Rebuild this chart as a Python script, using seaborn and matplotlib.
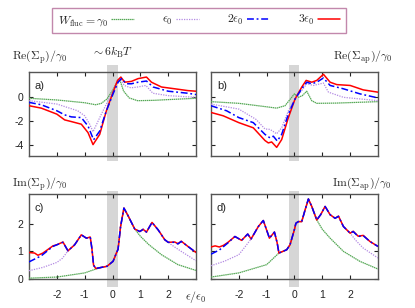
"""
Self-energy panels: Re / Im of Sigma_p and Sigma_ap for several W_fluc
"""

import matplotlib
matplotlib.use("Agg")
import matplotlib.pyplot as plt  # type: ignore
import seaborn as sns  # type: ignore
from matplotlib.lines import Line2D  # type: ignore


# --- a) Re(Sigma_p) ---
re_p_green_x = [-3.0, -2.0, -1.0, -0.6, -0.4, -0.2, 0.0, 0.15, 0.26, 0.4, 0.6, 0.9, 1.5, 2.0, 3.0]
re_p_green_y = [-0.14, -0.28, -0.51, -0.68, -0.56, -0.2, 0.51, 1.13, 1.41, 0.45, -0.11, -0.34, -0.31, -0.25, -0.14]
re_p_purple_x = [-3.0, -2.0, -1.25, -1.0, -0.82, -0.7, -0.55, -0.4, -0.1, 0.14, 0.28, 0.42, 0.66, 0.9, 1.2, 1.45, 2.0, 3.0]
re_p_purple_y = [-0.34, -0.62, -1.18, -1.6, -2.3, -2.93, -2.2, -1.46, -0.06, 1.07, 1.5, 0.93, 0.73, 0.8, 0.93, 0.28, 0.08, -0.06]
re_p_blue_x = [-3.0, -2.56, -2.0, -1.72, -1.48, -1.12, -0.88, -0.68, -0.46, -0.22, 0.02, 0.2, 0.32, 0.5, 0.68, 0.92, 1.22, 1.46, 2.0, 2.71, 3.0]
re_p_blue_y = [-0.48, -0.68, -1.18, -1.52, -1.69, -1.75, -2.45, -3.6, -2.87, -1.18, 0.23, 1.2, 1.5, 1.07, 1.07, 1.2, 1.3, 0.8, 0.45, 0.28, 0.17]
re_p_red_x = [-3.0, -2.56, -2.0, -1.72, -1.48, -1.12, -0.88, -0.7, -0.46, -0.22, 0.02, 0.18, 0.3, 0.44, 0.68, 0.92, 1.22, 1.4, 1.76, 2.24, 2.71, 3.0]
re_p_red_y = [-0.76, -0.96, -1.46, -1.94, -2.08, -2.3, -3.0, -4.0, -3.15, -1.18, 0.37, 1.35, 1.63, 1.2, 1.27, 1.5, 1.63, 1.2, 0.8, 0.65, 0.5, 0.45]

# --- b) Re(Sigma_ap) ---
re_ap_green_x = [-3.0, -2.0, -1.0, -0.64, -0.34, -0.1, 0.0, 0.14, 0.28, 0.44, 0.62, 0.8, 1.5, 3.0]
re_ap_green_y = [-0.42, -0.56, -0.85, -0.96, -0.76, -0.06, 0.23, -0.06, 0.08, 0.45, -0.34, -0.56, -0.54, -0.42]
re_ap_purple_x = [-3.0, -2.0, -1.38, -1.06, -0.88, -0.64, -0.46, -0.22, 0.02, 0.26, 0.44, 0.68, 1.04, 1.22, 1.76, 3.0]
re_ap_purple_y = [-0.62, -1.04, -1.9, -2.7, -2.73, -3.1, -2.6, -1.18, -0.2, 0.5, 1.07, 0.93, 1.13, 0.37, -0.06, -0.34]
re_ap_blue_x = [-3.0, -2.44, -2.0, -1.48, -1.06, -0.88, -0.76, -0.62, -0.46, -0.22, 0.02, 0.26, 0.44, 0.62, 0.8, 1.04, 1.28, 1.76, 2.35, 3.0]
re_ap_blue_y = [-0.76, -1.18, -1.75, -2.17, -3.15, -3.44, -3.3, -3.7, -3.15, -1.46, -0.2, 0.65, 1.2, 1.07, 1.2, 1.55, 0.93, 0.65, 0.23, -0.11]
re_ap_red_x = [-3.0, -2.56, -2.0, -1.48, -1.06, -0.94, -0.82, -0.64, -0.46, -0.22, 0.02, 0.26, 0.42, 0.62, 0.8, 1.04, 1.28, 1.52, 2.0, 2.47, 3.0]
re_ap_red_y = [-1.32, -1.6, -2.17, -2.6, -3.66, -3.86, -3.78, -4.23, -3.58, -1.75, -0.2, 0.79, 1.35, 1.2, 1.35, 1.86, 1.2, 1.0, 0.93, 0.56, 0.37]

# --- c) Im(Sigma_p) ---
im_p_green_x = [-3.0, -2.0, -1.0, -0.6, -0.4, -0.2, 0.02, 0.14, 0.2, 0.29, 0.41, 0.56, 0.8, 1.0, 1.3, 1.76, 2.35, 3.0]
im_p_green_y = [0.03, 0.07, 0.22, 0.36, 0.42, 0.46, 0.64, 0.94, 1.08, 1.9, 2.57, 2.29, 1.81, 1.55, 1.25, 0.88, 0.52, 0.31]
im_p_purple_x = [-3.0, -2.5, -2.0, -1.8, -1.6, -1.36, -1.12, -0.94, -0.8, -0.74, -0.68, -0.6, -0.4, -0.2, 0.02, 0.14,
                 0.2, 0.29, 0.41, 0.56, 0.8, 0.98, 1.1, 1.22, 1.42, 1.64, 1.88, 2.2, 2.47, 3.0]
im_p_purple_y = [0.3, 0.42, 0.6, 0.75, 1.02, 1.24, 1.6, 1.48, 1.52, 1.1, 0.5, 0.38, 0.42, 0.46, 0.64, 0.94,
                 1.08, 1.9, 2.57, 2.29, 1.81, 1.72, 1.8, 1.7, 2.05, 1.78, 1.42, 1.18, 1.0, 0.66]
im_p_blue_x = [-3.0, -2.56, -2.14, -2.0, -1.78, -1.6, -1.36, -1.12, -0.94, -0.8, -0.74, -0.68, -0.6, -0.4, -0.2, 0.02,
               0.14, 0.2, 0.29, 0.41, 0.56, 0.8, 0.98, 1.1, 1.22, 1.42, 1.64, 1.88, 2.0, 2.24, 2.35, 2.47, 2.71, 3.0]
im_p_blue_y = [0.62, 0.84, 1.18, 1.24, 1.33, 1.02, 1.24, 1.6, 1.48, 1.52, 1.1, 0.5, 0.38, 0.42, 0.46, 0.64,
               0.94, 1.08, 1.9, 2.57, 2.29, 1.81, 1.72, 1.8, 1.7, 2.05, 1.78, 1.42, 1.33, 1.33, 1.27, 1.36, 1.18, 0.96]
im_p_red_x = [-3.0, -2.8, -2.68, -2.5, -2.14, -2.0, -1.78, -1.6, -1.36, -1.12, -0.94, -0.8, -0.74, -0.68, -0.6, -0.4,
              -0.2, 0.02, 0.14, 0.2, 0.29, 0.41, 0.56, 0.8, 0.98, 1.1, 1.22, 1.42, 1.64, 1.88, 2.0, 2.24, 2.35, 2.47,
              2.71, 3.0]
im_p_red_y = [0.96, 0.94, 0.86, 0.94, 1.2, 1.24, 1.34, 1.02, 1.24, 1.6, 1.48, 1.52, 1.1, 0.5, 0.38, 0.42,
              0.46, 0.64, 0.94, 1.08, 1.9, 2.57, 2.29, 1.81, 1.72, 1.8, 1.7, 2.05, 1.78, 1.42, 1.33, 1.34, 1.28, 1.37,
              1.18, 0.96]

# --- d) Im(Sigma_ap) ---
im_ap_green_x = [-3.0, -2.0, -1.0, -0.56, -0.28, -0.16, 0.0, 0.05, 0.14, 0.26, 0.38, 0.5, 0.62, 0.8, 1.0, 1.28, 1.76,
                 2.35, 3.0]
im_ap_green_y = [0.07, 0.22, 0.52, 0.94, 1.06, 1.24, 1.8, 2.02, 2.08, 2.08, 2.5, 2.9, 2.63, 2.14, 1.8, 1.48, 1.0,
                 0.64, 0.36]
im_ap_purple_x = [-3.0, -2.5, -2.0, -1.75, -1.56, -1.3, -1.12, -0.9, -0.72, -0.62, -0.56, -0.28, -0.16, 0.0, 0.05,
                  0.14, 0.26, 0.38, 0.5, 0.62, 0.8, 0.94, 1.1, 1.28, 1.46, 1.58, 1.76, 2.0, 2.2, 2.47, 3.0]
im_ap_purple_y = [0.48, 0.65, 0.88, 1.2, 1.45, 1.9, 2.12, 1.48, 1.7, 1.3, 0.94, 1.06, 1.24, 1.8, 2.02,
                  2.08, 2.08, 2.5, 2.9, 2.63, 2.14, 2.33, 2.63, 2.33, 2.2, 2.27, 1.9, 1.66, 1.4, 1.12, 0.76]
im_ap_blue_x = [-3.0, -2.7, -2.4, -2.14, -1.9, -1.68, -1.56, -1.3, -1.12, -0.9, -0.72, -0.62, -0.56, -0.28, -0.16,
                0.0, 0.05, 0.14, 0.26, 0.38, 0.5, 0.62, 0.8, 0.94, 1.1, 1.28, 1.46, 1.58, 1.76, 2.0, 2.11, 2.29, 2.47,
                2.71, 3.0]
im_ap_blue_y = [0.9, 1.05, 1.3, 1.54, 1.4, 1.63, 1.45, 1.9, 2.12, 1.48, 1.7, 1.3, 0.94, 1.06, 1.24,
                1.8, 2.02, 2.08, 2.08, 2.5, 2.9, 2.63, 2.14, 2.33, 2.63, 2.33, 2.2, 2.27, 1.9, 1.66, 1.72, 1.54, 1.57,
                1.36, 1.18]
im_ap_red_x = [-3.0, -2.85, -2.7, -2.55, -2.4, -2.14, -1.9, -1.68, -1.56, -1.3, -1.12, -0.9, -0.72, -0.62, -0.56,
               -0.28, -0.16, 0.0, 0.05, 0.14, 0.26, 0.38, 0.5, 0.62, 0.8, 0.94, 1.1, 1.28, 1.46, 1.58, 1.76, 2.0, 2.11,
               2.29, 2.47, 2.71, 3.0]
im_ap_red_y = [1.16, 1.2, 1.16, 1.22, 1.32, 1.54, 1.4, 1.63, 1.45, 1.9, 2.12, 1.48, 1.7, 1.3, 0.94,
               1.06, 1.24, 1.8, 2.02, 2.08, 2.08, 2.5, 2.9, 2.63, 2.14, 2.33, 2.63, 2.33, 2.2, 2.28, 1.9, 1.66, 1.73,
               1.55, 1.58, 1.36, 1.18]

legend_labels = [r"$W_{\rm fluc}=\gamma_0$", r"$\epsilon_0$", r"$2\epsilon_0$", r"$3\epsilon_0$"]
x_ticks = [-2, -1, 0, 1, 2]

STYLES = {
    "green": dict(color="#55a855", linewidth=0.9, linestyle=(0, (1.2, 0.45))),
    "purple": dict(color="#b38ae3", linewidth=0.9, linestyle=(0, (1.0, 1.0))),
    "blue": dict(color="#0000ff", linewidth=1.1, linestyle=(0, (4.5, 1.8, 1.2, 1.8))),
    "red": dict(color="#ff0000", linewidth=1.1, linestyle="-"),
}


def draw_panel(ax, curves, ylim, yticks, letter, band_lo, band_hi, show_xlabels, show_ylabels):
    ax.axvspan(-0.2, 0.18, ymin=band_lo, ymax=band_hi, color="#d6d6d6", lw=0, zorder=0, clip_on=False)
    for name in ["green", "purple", "red", "blue"]:
        xs, ys = curves[name]
        sns.lineplot(x=xs, y=ys, ax=ax, errorbar=None, zorder=3, **STYLES[name])
    ax.set_xlim(-3, 3)
    ax.set_ylim(*ylim)
    ax.set_xticks(x_ticks)
    ax.set_yticks(yticks)
    ax.tick_params(top=True, right=True, direction="in", length=3, width=0.8,
                   labelsize=7.5, colors="#222222", pad=4)
    ax.tick_params(axis="x", pad=8)
    if not show_xlabels:
        ax.set_xticklabels([])
    if not show_ylabels:
        ax.set_yticklabels([])
    for sp in ax.spines.values():
        sp.set_color("#555555")
        sp.set_linewidth(1.0)
    ax.text(0.035, 0.8, letter, transform=ax.transAxes, fontsize=8)


def main():
    sns.set_style("ticks")
    plt.rcParams["font.family"] = ["Liberation Sans", "DejaVu Sans"]
    plt.rcParams["mathtext.fontset"] = "cm"
    plt.rcParams["axes.unicode_minus"] = False

    fig = plt.figure(figsize=(4.15, 3.08), dpi=100)
    w = 0.4024
    ax_a = fig.add_axes([0.0699, 0.4935, w, 0.2727])
    ax_b = fig.add_axes([0.5084, 0.4935, w, 0.2727])
    ax_c = fig.add_axes([0.0699, 0.0942, w, 0.2759])
    ax_d = fig.add_axes([0.5084, 0.0942, w, 0.2759])

    draw_panel(ax_a, {"green": (re_p_green_x, re_p_green_y), "purple": (re_p_purple_x, re_p_purple_y),
                      "blue": (re_p_blue_x, re_p_blue_y), "red": (re_p_red_x, re_p_red_y)},
               (-4.95, 2.05), [-4, -2, 0], "a)", -0.06, 1.083, False, True)
    draw_panel(ax_b, {"green": (re_ap_green_x, re_ap_green_y), "purple": (re_ap_purple_x, re_ap_purple_y),
                      "blue": (re_ap_blue_x, re_ap_blue_y), "red": (re_ap_red_x, re_ap_red_y)},
               (-4.95, 2.05), [-4, -2, 0], "b)", -0.06, 1.083, False, False)
    draw_panel(ax_c, {"green": (im_p_green_x, im_p_green_y), "purple": (im_p_purple_x, im_p_purple_y),
                      "blue": (im_p_blue_x, im_p_blue_y), "red": (im_p_red_x, im_p_red_y)},
               (0, 3.08), [0, 1, 2], "c)", -0.094, 1.035, True, True)
    draw_panel(ax_d, {"green": (im_ap_green_x, im_ap_green_y), "purple": (im_ap_purple_x, im_ap_purple_y),
                      "blue": (im_ap_blue_x, im_ap_blue_y), "red": (im_ap_red_x, im_ap_red_y)},
               (0, 3.08), [0, 1, 2], "d)", -0.094, 1.035, True, False)

    # axis titles placed above the panels
    fig.text(12 / 415, 1 - 57 / 308, r"$\mathrm{Re}(\Sigma_{\rm p})/\gamma_0$", fontsize=8.5, va="center")
    fig.text(392 / 415, 1 - 57 / 308, r"$\mathrm{Re}(\Sigma_{\rm ap})/\gamma_0$", fontsize=8.5,
             va="center", ha="right")
    fig.text(12 / 415, 1 - 184 / 308, r"$\mathrm{Im}(\Sigma_{\rm p})/\gamma_0$", fontsize=8.5, va="center")
    fig.text(392 / 415, 1 - 184 / 308, r"$\mathrm{Im}(\Sigma_{\rm ap})/\gamma_0$", fontsize=8.5,
             va="center", ha="right")
    fig.text(112 / 415, 1 - 52 / 308, r"$\sim 6k_{\rm B}T$", fontsize=8.5, va="center", ha="center")
    fig.text(185 / 415, 1 - 297 / 308, r"$\epsilon/\epsilon_0$", fontsize=8.5, va="center")

    handles = [Line2D([], [], **STYLES[n]) for n in ["green", "purple", "blue", "red"]]
    leg = fig.legend(handles, legend_labels, loc="center", bbox_to_anchor=(199 / 415, 1 - 20.5 / 308),
                     ncol=4, markerfirst=False, fontsize=8.5, frameon=True, fancybox=False,
                     edgecolor="#b36b98", handlelength=1.9, handletextpad=0.3, columnspacing=2.4,
                     borderpad=0.45, borderaxespad=0)
    leg.get_frame().set_linewidth(1.0)
    leg.get_frame().set_boxstyle("square", pad=0.0)

    fig.savefig("out.png", dpi=100)


if __name__ == "__main__":
    main()
